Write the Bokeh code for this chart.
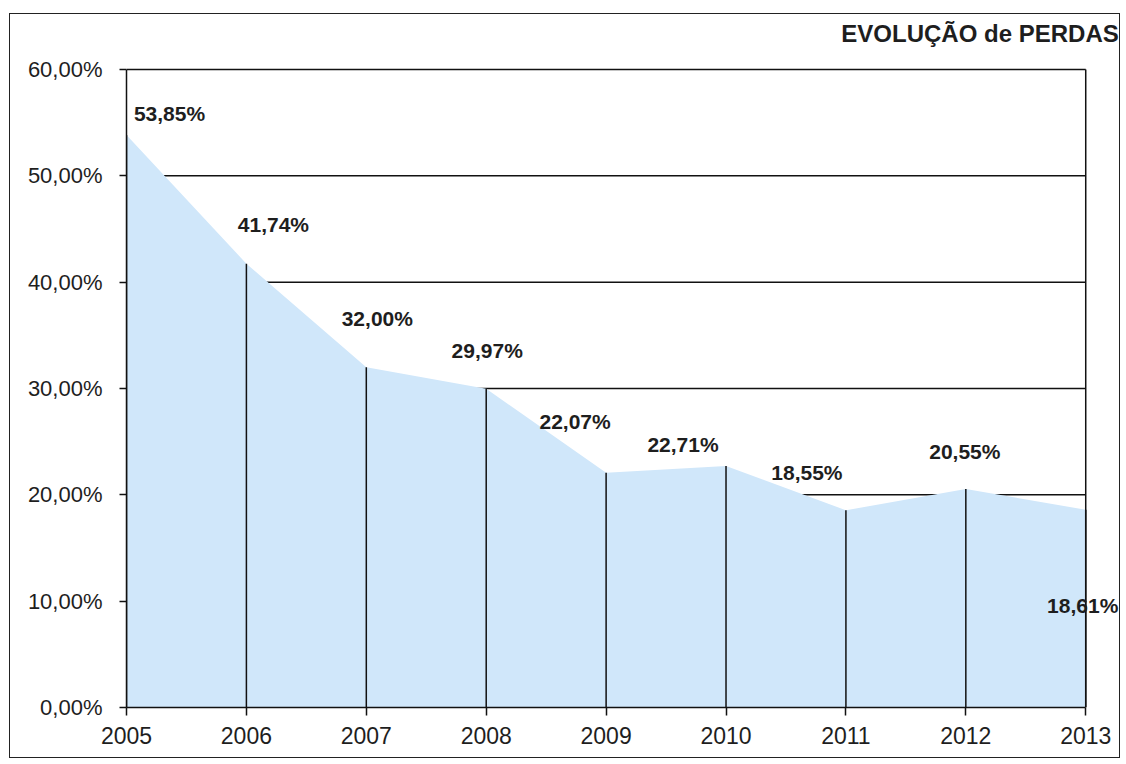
from bokeh.plotting import figure
from bokeh.models import ColumnDataSource, LabelSet, Label, Range1d, FixedTicker
from bokeh.core.properties import value
from bokeh.embed import file_html
from bokeh.resources import INLINE

# ---- data ----
years = [2005, 2006, 2007, 2008, 2009, 2010, 2011, 2012, 2013]
losses = [53.85, 41.74, 32.00, 29.97, 22.07, 22.71, 18.55, 20.55, 18.61]
loss_labels = ["53,85%", "41,74%", "32,00%", "29,97%", "22,07%",
               "22,71%", "18,55%", "20,55%", "18,61%"]
y_ticks = [0, 10, 20, 30, 40, 50, 60]
y_tick_labels = ["0,00%", "10,00%", "20,00%", "30,00%", "40,00%", "50,00%", "60,00%"]
title_text = "EVOLUÇÃO de PERDAS"

# label placement (pixel offsets from each point; positive dy = up)
label_dx = [43, 27, 11, 1, -31, -43, -39, -1, -3]
label_dy = [21, 39, 49, 38, 51, 22, 38, 37, -96]

FONT = "Liberation Sans"
TXT = "#1e1e1e"
LINE = "#111111"

x0, x1 = years[0], years[-1]
y0, y1 = y_ticks[0], y_ticks[-1]

p = figure(width=1111, height=745, output_backend="svg", toolbar_location=None,
           x_range=Range1d(x0, x1 + 0.29), y_range=Range1d(y0, y1 + 4.8),
           min_border_left=116, min_border_right=1, min_border_top=4,
           min_border_bottom=52)
p.styles = {"border": "1px solid #222", "margin-left": "9px", "margin-top": "13px"}

p.background_fill_color = "white"
p.border_fill_color = "white"
p.outline_line_color = None
p.xgrid.visible = False
p.ygrid.visible = False

# horizontal grid lines (behind the area), spanning the chart only
grid_src = ColumnDataSource(dict(y=y_ticks[1:], xa=[x0] * (len(y_ticks) - 1),
                                 xb=[x1] * (len(y_ticks) - 1)))
p.segment(x0="xa", y0="y", x1="xb", y1="y", source=grid_src,
          line_color=LINE, line_width=1.5)

# area + drop lines
src = ColumnDataSource(dict(x=years, y=losses, base=[0] * len(years)))
p.varea(x="x", y1="base", y2="y", source=src, fill_color="#D0E7FA")
p.segment(x0="x", y0="base", x1="x", y1="y", source=src,
          line_color=LINE, line_width=1.5)
# right border of the chart
p.segment(x0=[x1], y0=[y0], x1=[x1], y1=[y1], line_color=LINE, line_width=1.5)

# axes
p.yaxis.ticker = FixedTicker(ticks=y_ticks)
p.yaxis.major_label_overrides = {t: l for t, l in zip(y_ticks, y_tick_labels)}
p.yaxis.bounds = (y0, y1)
p.xaxis.ticker = FixedTicker(ticks=years)
p.xaxis.major_label_overrides = {y: str(y) for y in years}
p.xaxis.bounds = (x0, x1)
for ax in (p.xaxis, p.yaxis):
    ax.axis_line_color = LINE
    ax.axis_line_width = 1.5
    ax.major_tick_line_color = LINE
    ax.major_tick_line_width = 1.5
    ax.major_tick_in = 0
    ax.minor_tick_line_color = None
    ax.major_label_text_font = FONT
    ax.major_label_text_color = TXT
p.yaxis.major_tick_out = 7
p.yaxis.major_label_standoff = 17
p.yaxis.major_label_text_font_size = "22px"
p.xaxis.major_tick_out = 8
p.xaxis.major_label_standoff = 11
p.xaxis.major_label_text_font_size = "23px"

# value labels
src_lab = ColumnDataSource(dict(x=years, y=losses, lab=loss_labels,
                                dx=label_dx, dy=label_dy))
labels = LabelSet(x="x", y="y", text="lab", source=src_lab,
                  x_offset="dx", y_offset="dy",
                  text_align="center", text_baseline="middle",
                  text_font=value(FONT), text_font_size=value("21px"),
                  text_font_style="bold", text_color=TXT)
p.add_layout(labels)

# title (top right, above the chart box)
p.add_layout(Label(x=x1, y=y1, x_offset=33, y_offset=36, text=title_text,
                   text_align="right", text_baseline="middle",
                   text_font=FONT, text_font_size="24px",
                   text_font_style="bold", text_color=TXT))

open("out.html", "w").write(file_html(p, INLINE))
